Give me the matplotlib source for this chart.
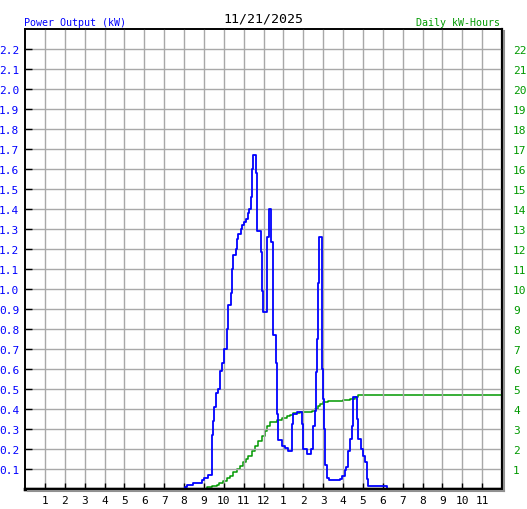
import matplotlib
matplotlib.use('Agg')
import matplotlib.pyplot as plt
from matplotlib.lines import Line2D

# 전력 출력 (kW), 시간(시) 기준 계단형 데이터
power_hours = [0.0, 8.05, 8.17, 8.44, 8.89, 9.01, 9.22, 9.39, 9.44, 9.52, 9.61, 9.70, 9.81,
               9.93, 10.03, 10.15, 10.23, 10.35, 10.43, 10.48, 10.62, 10.65, 10.73, 10.87,
               10.93, 11.02, 11.10, 11.21, 11.27, 11.37, 11.42, 11.49, 11.62, 11.67, 11.87,
               11.91, 11.99, 12.16, 12.19, 12.26, 12.39, 12.49, 12.63, 12.66, 12.75, 12.92,
               13.08, 13.25, 13.42, 13.50, 13.70, 13.95, 13.97, 14.17, 14.39, 14.47, 14.59,
               14.64, 14.68, 14.72, 14.77, 14.93, 14.96, 15.01, 15.04, 15.11, 15.19, 15.31,
               15.85, 15.93, 16.10, 16.15, 16.27, 16.35, 16.44, 16.49, 16.52, 16.69, 16.77,
               16.89, 16.99, 17.11, 17.19, 17.22, 17.27, 18.20, 24.0]
power_kw = [0.0, 0.01, 0.02, 0.03, 0.045, 0.055, 0.07, 0.27, 0.34, 0.41, 0.48, 0.50, 0.59,
            0.63, 0.70, 0.80, 0.92, 0.98, 1.10, 1.17, 1.20, 1.25, 1.275, 1.30,
            1.32, 1.335, 1.35, 1.38, 1.40, 1.46, 1.60, 1.67, 1.58, 1.29, 1.185,
            0.99, 0.887, 1.01, 1.26, 1.40, 1.235, 0.77, 0.63, 0.375, 0.247, 0.217,
            0.205, 0.19, 0.325, 0.375, 0.383, 0.325, 0.20, 0.175, 0.20, 0.317, 0.39,
            0.587, 0.75, 1.03, 1.26, 1.025, 0.60, 0.45, 0.30, 0.12, 0.055, 0.045,
            0.05, 0.067, 0.097, 0.11, 0.19, 0.25, 0.317, 0.44, 0.46, 0.35, 0.25,
            0.20, 0.167, 0.133, 0.10, 0.05, 0.013, 0.0, 0.0]

# 누적 발전량 (kWh)
energy_hours = [8.10, 9.14, 9.39, 9.65, 9.78, 9.95, 10.15, 10.31, 10.48, 10.68, 10.82, 10.98,
                11.12, 11.24, 11.41, 11.57, 11.74, 11.91, 12.08, 12.19, 12.33, 12.66, 12.92,
                13.17, 13.33, 13.50, 13.84, 14.17, 14.43, 14.59, 14.76, 14.84, 14.98, 15.26,
                15.68, 16.02, 16.35, 16.60, 16.77, 24.0]
energy_kwh = [0.02, 0.08, 0.13, 0.20, 0.30, 0.42, 0.53, 0.67, 0.83, 1.00, 1.13, 1.33,
              1.50, 1.67, 1.92, 2.17, 2.42, 2.67, 2.92, 3.17, 3.33, 3.47, 3.53,
              3.63, 3.68, 3.78, 3.83, 3.87, 3.92, 4.00, 4.17, 4.25, 4.37, 4.40,
              4.42, 4.47, 4.50, 4.58, 4.70, 4.70]

hour_ticks = list(range(1, 24))
hour_labels = [str(h) for h in range(1, 12)] + ['12'] + [str(h) for h in range(1, 12)]
kw_ticks = [round(0.1 * i, 1) for i in range(1, 23)]
kwh_ticks = list(range(1, 23))

mono = 'DejaVu Sans Mono'
blue = '#0000ff'
green = '#009900'

fig = plt.figure(figsize=(5.27, 5.10), dpi=100)
ax = fig.add_axes([25 / 527, 20 / 510, 477 / 527, 460 / 510])
ax2 = ax.twinx()

ax.set_xlim(0, 24)
ax.set_ylim(0, 2.3)
ax2.set_ylim(0, 23)

# 격자
for h in hour_ticks:
    ax.axvline(h, color='#a8a8a8', lw=1, zorder=0)
for v in kw_ticks:
    ax.axhline(v, color='#a8a8a8', lw=1, zorder=0)

ax.plot(power_hours, power_kw, color=blue, lw=1.3, drawstyle='steps-post', zorder=2)
ax2.plot(energy_hours, energy_kwh, color=green, lw=1.1, drawstyle='steps-post', zorder=2)

ax.set_xticks(hour_ticks)
ax.set_xticklabels(hour_labels, fontfamily=mono, fontsize=8)
ax.tick_params(axis='x', direction='in', length=4, width=1, colors='black', pad=4)

ax.set_yticks(kw_ticks)
ax.set_yticklabels([f'{v:.1f}' for v in kw_ticks], fontfamily=mono, fontsize=8, color=blue)
ax.tick_params(axis='y', direction='in', length=5, width=1, color='black', pad=4)

ax2.set_yticks(kwh_ticks)
ax2.set_yticklabels([str(v) for v in kwh_ticks], fontfamily=mono, fontsize=8, color=green)
ax2.tick_params(axis='y', direction='in', length=0, pad=8)

for a in (ax, ax2):
    for side in a.spines.values():
        side.set_color('black')
        side.set_linewidth(1.2)
        side.set_zorder(5)
ax.spines['bottom'].set_linewidth(2.4)
ax2.spines['bottom'].set_linewidth(2.4)
ax2.spines['right'].set_linewidth(1.6)
ax.set_zorder(ax2.get_zorder() + 1)
ax.patch.set_visible(False)

# 그림자
fig.add_artist(Line2D([28 / 527, 504 / 527], [18.5 / 510, 18.5 / 510], color='#909090', lw=1.5))
fig.add_artist(Line2D([503.5 / 527, 503.5 / 527], [18.5 / 510, 478 / 510], color='#909090', lw=1.5))

fig.text(24 / 527, 1 - 23 / 510, 'Power Output (kW)', color=blue, fontfamily=mono,
         fontsize=7.2, ha='left', va='center')
fig.text(500 / 527, 1 - 23 / 510, 'Daily kW-Hours', color=green, fontfamily=mono,
         fontsize=7.2, ha='right', va='center')
fig.text(263 / 527, 1 - 19 / 510, '11/21/2025', color='black', fontfamily=mono,
         fontsize=9.5, ha='center', va='center')

fig.savefig('out.png', dpi=100)
